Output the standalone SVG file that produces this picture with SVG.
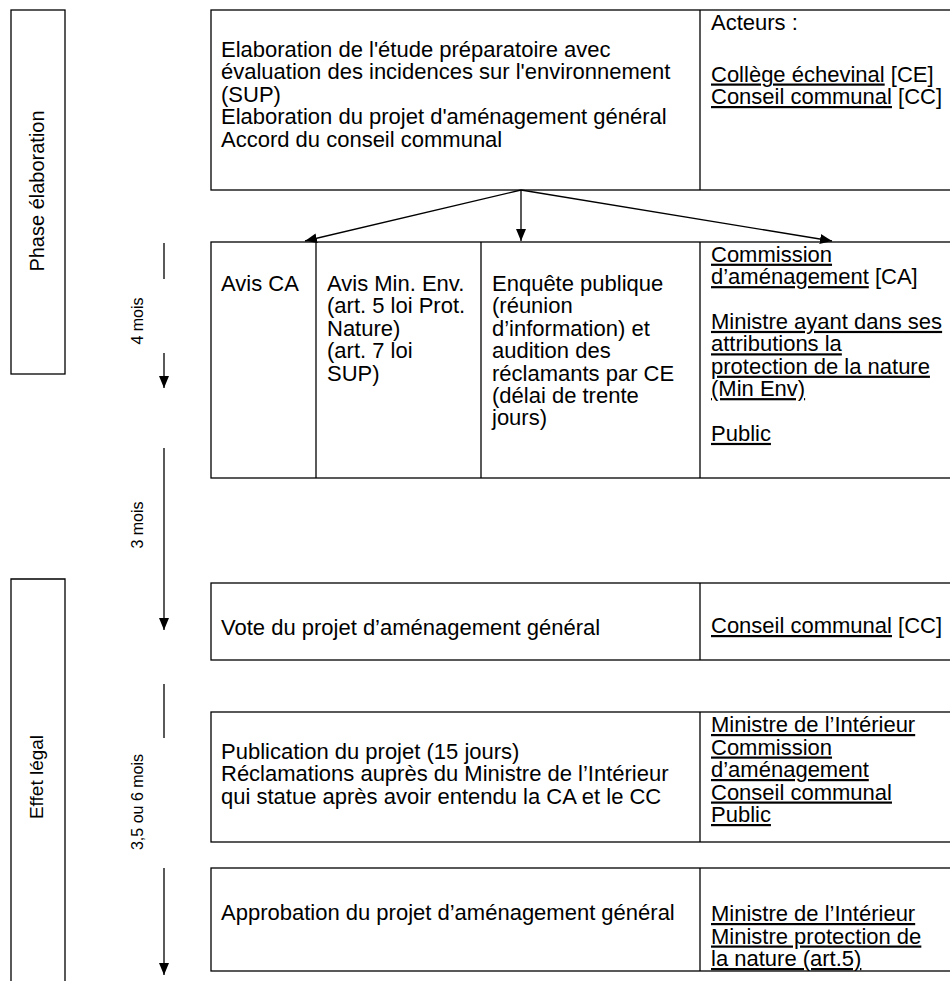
<svg xmlns="http://www.w3.org/2000/svg" width="950" height="981" viewBox="0 0 950 981">
<defs>
<marker id="ah" viewBox="0 0 12 10" refX="12" refY="5" markerWidth="12" markerHeight="10" markerUnits="userSpaceOnUse" orient="auto">
<path d="M0,0 L12,5 L0,10 z" fill="#000"/>
</marker>
<style>
.box{fill:#fff;stroke:#000;stroke-width:1.3}
.ln{stroke:#000;stroke-width:1.3;fill:none}
.t{font-family:"Liberation Sans",Arial,sans-serif;font-size:22px;fill:#000}
.s{font-family:"Liberation Sans",Arial,sans-serif;font-size:16px;fill:#000}
.u{text-decoration:underline}
</style>
</defs>
<rect width="950" height="981" fill="#fff"/>

<g id="phase-elaboration">
<rect class="box" x="11" y="10" width="54" height="364"/>
<text class="t" style="font-size:20px" text-anchor="middle" transform="translate(43.5,191) rotate(-90)">Phase élaboration</text>
</g>
<g id="effet-legal">
<path class="ln" d="M11,990 V579 H65 V990"/>
<text class="t" style="font-size:19px" text-anchor="middle" transform="translate(43,777) rotate(-90)">Effet légal</text>
</g>

<g id="timeline">
<line class="ln" x1="164" y1="243" x2="164" y2="279"/>
<line class="ln" x1="164" y1="353" x2="164" y2="388" marker-end="url(#ah)"/>
<text class="s" text-anchor="middle" transform="translate(143,321) rotate(-90)">4 mois</text>
<line class="ln" x1="164" y1="448" x2="164" y2="630" marker-end="url(#ah)"/>
<text class="s" text-anchor="middle" transform="translate(143,525) rotate(-90)">3 mois</text>
<line class="ln" x1="164" y1="684" x2="164" y2="738"/>
<line class="ln" x1="164" y1="868" x2="164" y2="975" marker-end="url(#ah)"/>
<text class="s" text-anchor="middle" transform="translate(143,802) rotate(-90)">3,5 ou 6 mois</text>
</g>

<g id="n1">
<rect class="box" x="211" y="10" width="760" height="180"/>
<line class="ln" x1="700" y1="10" x2="700" y2="190"/>
<text class="t" x="221"><tspan x="221" y="57">Elaboration de l'étude préparatoire avec</tspan><tspan x="221" y="79.4">évaluation des incidences sur l'environnement</tspan><tspan x="221" y="101.8">(SUP)</tspan><tspan x="221" y="124.2">Elaboration du projet d'aménagement général</tspan><tspan x="221" y="146.6">Accord du conseil communal</tspan></text>
<text class="t" x="711" y="30">Acteurs :</text>
<text class="t" x="711" y="81.5"><tspan class="u">Collège échevinal</tspan> [CE]</text>
<text class="t" x="711" y="104"><tspan class="u">Conseil communal</tspan> [CC]</text>
</g>

<g id="n2">
<rect class="box" x="211" y="242" width="760" height="236"/>
<line class="ln" x1="316" y1="242" x2="316" y2="478"/>
<line class="ln" x1="481" y1="242" x2="481" y2="478"/>
<line class="ln" x1="700" y1="242" x2="700" y2="478"/>
<text class="t" x="221" y="291">Avis CA</text>
<text class="t"><tspan x="327" y="291">Avis Min. Env.</tspan><tspan x="327" y="313.4">(art. 5 loi Prot.</tspan><tspan x="327" y="335.8">Nature)</tspan><tspan x="327" y="358.2">(art. 7 loi</tspan><tspan x="327" y="380.6">SUP)</tspan></text>
<text class="t"><tspan x="492" y="291">Enquête publique</tspan><tspan x="492" y="313.4">(réunion</tspan><tspan x="492" y="335.8">d’information) et</tspan><tspan x="492" y="358.2">audition des</tspan><tspan x="492" y="380.6">réclamants par CE</tspan><tspan x="492" y="403">(délai de trente</tspan><tspan x="492" y="425.4">jours)</tspan></text>
<text class="t" x="711" y="261.7"><tspan class="u">Commission</tspan></text>
<text class="t" x="711" y="284.1"><tspan class="u">d’aménagement</tspan> [CA]</text>
<text class="t u" x="711" y="328.9">Ministre ayant dans ses</text>
<text class="t u" x="711" y="351.3">attributions la</text>
<text class="t u" x="711" y="373.7">protection de la nature</text>
<text class="t u" x="711" y="396.1">(Min Env)</text>
<text class="t u" x="711" y="440.9">Public</text>
</g>

<g id="n3">
<rect class="box" x="211" y="583" width="760" height="77"/>
<line class="ln" x1="700" y1="583" x2="700" y2="660"/>
<text class="t" x="221" y="635">Vote du projet d’aménagement général</text>
<text class="t" x="711" y="633"><tspan class="u">Conseil communal</tspan> [CC]</text>
</g>

<g id="n4">
<rect class="box" x="211" y="712" width="760" height="130"/>
<line class="ln" x1="700" y1="712" x2="700" y2="842"/>
<text class="t"><tspan x="221" y="758.5">Publication du projet (15 jours)</tspan><tspan x="221" y="781">Réclamations auprès du Ministre de l’Intérieur</tspan><tspan x="221" y="803.5">qui statue après avoir entendu la CA et le CC</tspan></text>
<text class="t u" x="711" y="732">Ministre de l’Intérieur</text>
<text class="t u" x="711" y="754.5">Commission</text>
<text class="t u" x="711" y="777">d’aménagement</text>
<text class="t u" x="711" y="799.5">Conseil communal</text>
<text class="t u" x="711" y="822">Public</text>
</g>

<g id="n5">
<rect class="box" x="211" y="868" width="760" height="103"/>
<line class="ln" x1="700" y1="868" x2="700" y2="971"/>
<text class="t" x="221" y="920">Approbation du projet d’aménagement général</text>
<text class="t u" x="711" y="921">Ministre de l’Intérieur</text>
<text class="t u" x="711" y="943.5">Ministre protection de</text>
<text class="t u" x="711" y="966">la nature (art.5)</text>
</g>

<g id="connectors">
<line class="ln" x1="521" y1="190" x2="305" y2="241" marker-end="url(#ah)"/>
<line class="ln" x1="521" y1="190" x2="521" y2="241" marker-end="url(#ah)"/>
<line class="ln" x1="521" y1="190" x2="832" y2="241" marker-end="url(#ah)"/>
</g>
</svg>
